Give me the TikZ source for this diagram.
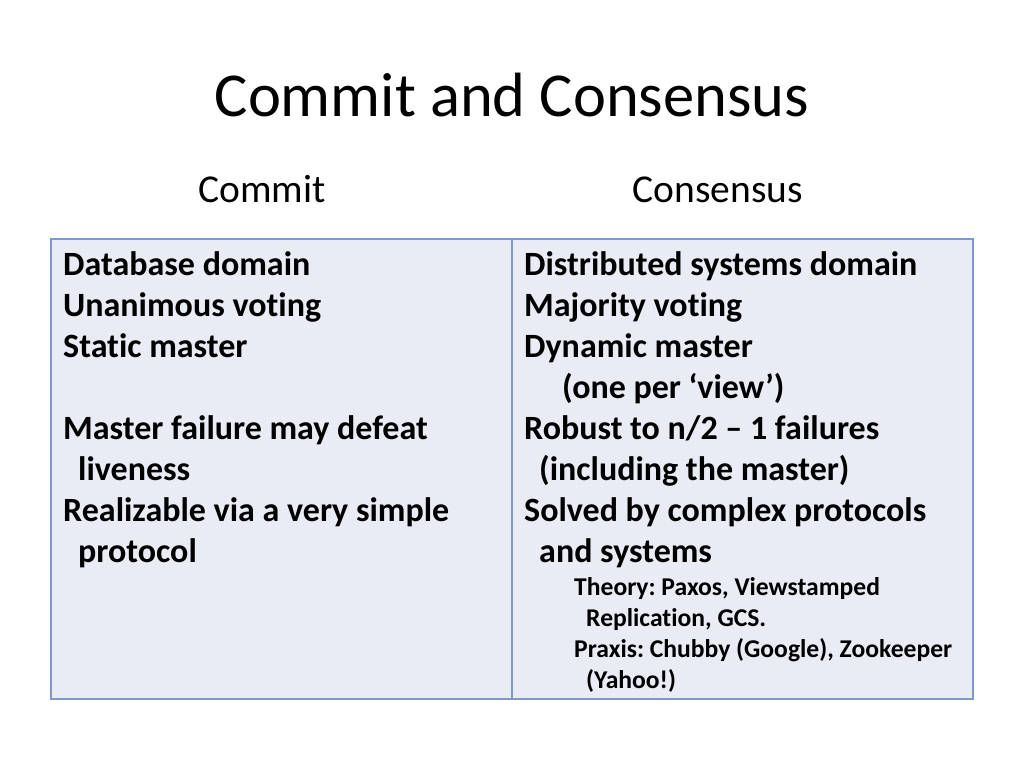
\documentclass[tikz,border=0pt]{standalone}
\usepackage{fontspec}
\setmainfont{Carlito}[Ligatures={NoCommon}]
\frenchspacing
\definecolor{boxfill}{HTML}{E9EBF5}
\definecolor{boxline}{HTML}{7F99C8}
\tikzset{
  title/.style={anchor=base, inner sep=0pt, font=\fontsize{62.5}{75}\selectfont},
  head/.style={anchor=base, inner sep=0pt, font=\fontsize{39.5}{46}\selectfont},
  body/.style={anchor=base west, inner sep=0pt, font=\fontsize{34}{40}\selectfont\bfseries},
  small/.style={anchor=base west, inner sep=0pt, font=\fontsize{25.6}{31}\selectfont\bfseries},
  cell/.style={draw=boxline, fill=boxfill, line width=1.5pt}
}
\begin{document}
\begin{tikzpicture}[x=1pt,y=-1pt]
\useasboundingbox (0,0) rectangle (1024,768);
\fill[white] (0,0) rectangle (1024,768);
\node[title] (t) at (512,116) {Commit and Consensus};
\node[head] (h1) at (262,202) {Commit};
\node[head] (h2) at (718,202) {Consensus};
\draw[cell] (51,239) rectangle (512,699);
\draw[cell] (512,239) rectangle (973,699);
% left column
\node[body] (l1) at (63,275) {Database domain};
\node[body] (l2) at (63,316) {Unanimous voting};
\node[body] (l3) at (63,357) {Static master};
\node[body] (l4) at (63,439) {Master failure may defeat};
\node[body] (l5) at (78,480) {liveness};
\node[body] (l6) at (63,521) {Realizable via a very simple};
\node[body] (l7) at (78,562) {protocol};
% right column
\node[body] (r1) at (524,275) {Distributed systems domain};
\node[body] (r2) at (524,316) {Majority voting};
\node[body] (r3) at (524,357) {Dynamic master};
\node[body] (r4) at (562,398) {(one per ‘view’)};
\node[body] (r5) at (524,439) {Robust to n/2 – 1 failures};
\node[body] (r6) at (539,480) {(including the master)};
\node[body] (r7) at (524,521) {Solved by complex protocols};
\node[body] (r8) at (539,562) {and systems};
\node[small] (s1) at (574,595) {Theory: Paxos, Viewstamped};
\node[small] (s2) at (586,626) {Replication, GCS.};
\node[small] (s3) at (574,657) {Praxis: Chubby (Google), Zookeeper};
\node[small] (s4) at (586,688) {(Yahoo!)};
\end{tikzpicture}
\end{document}
